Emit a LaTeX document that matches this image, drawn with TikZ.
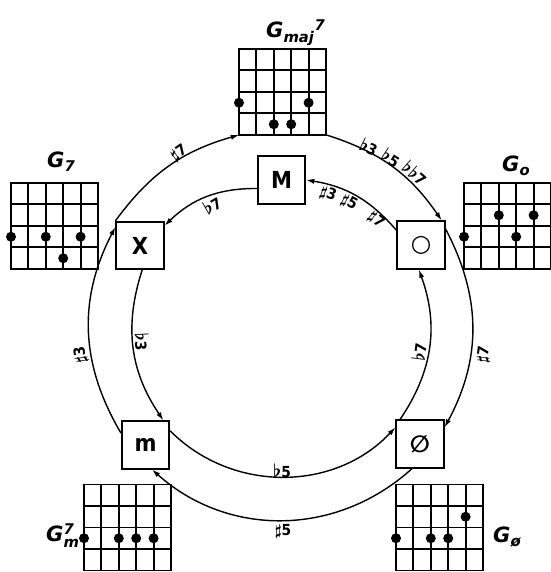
\documentclass[tikz,border=0pt]{standalone}
\usepackage{amsmath}
\usepackage{graphicx}
\usepackage{fontspec}
\setmainfont{DejaVu Sans}
\newfontfamily\condfont{DejaVu Sans Condensed}
\newfontfamily\symfont{DejaVu Sans}
\usetikzlibrary{arrows.meta}

\newcommand\flt{\scalebox{1.3}{$\boldsymbol{\flat}$}}
\newcommand\shp{\scalebox{1.1}{$\boldsymbol{\sharp}$}}

% chord grid: name, south west corner, dots as string/fret
\newcommand\fretboard[3]{%
  \node[fretbox,anchor=south west] (#1) at (#2) {};
  \begin{scope}[shift={(#1.south west)},line width=1.7pt,line cap=rect]
    \foreach \s in {0,...,5} \draw (\s*17.4,0) -- (\s*17.4,86);
    \foreach \f in {0,...,4} \draw (0,\f*21.5) -- (87,\f*21.5);
    \foreach \s/\f in {#3} \fill (\s*17.4,96.75-\f*21.5) circle (5);
  \end{scope}}

\begin{document}
\begin{tikzpicture}[x=0.03cm,y=0.03cm,>={Latex[length=7pt,width=4.5pt]},
  chord/.style={draw,line width=1.6pt,fill=white,minimum size=1.42cm,inner sep=0pt,
    font=\condfont\bfseries\fontsize{20}{20}\selectfont},
  fretbox/.style={minimum width=2.61cm,minimum height=2.58cm,inner sep=0pt},
  ring/.style={line width=1.2pt,->},
  ivl/.style={font=\condfont\bfseries\fontsize{13}{13}\selectfont,inner sep=0pt},
  cname/.style={font=\bfseries\itshape\fontsize{18}{18}\selectfont,inner sep=0pt,anchor=base west}]
  \useasboundingbox (0,0) rectangle (550,572);

  % chord diagrams
  \fretboard{fmaj}{239,437}{0/3,2/4,3/4,4/3}
  \fretboard{fdom}{11,303}{0/3,2/3,3/4,4/3}
  \fretboard{fdim}{464,303}{0/3,2/2,3/3,4/2}
  \fretboard{fmin}{84,1.5}{0/3,2/3,3/3,4/3}
  \fretboard{fhdim}{396,1.5}{0/3,2/3,3/3,4/2}

  \node[cname] (nmaj) at (266,534) {G\textsubscript{maj}\textsuperscript{7}};
  \node[cname] (ndom) at (47,404) {G\textsubscript{7}};
  \node[cname] (ndim) at (502,400) {G\textsubscript{o}};
  \node[cname] (nmin) at (46,30) {G$_{\text{m}}^{\text{7}}$};
  \node[cname] (nhdim) at (493,29) {G\textsubscript{ø}};

  % chord types
  \node[chord] (maj) at (281.5,392) {M};
  \node[chord] (dom) at (140,326.5) {X};
  \node[chord] (dim) at (421,327) {{\symfont ○}};
  \node[chord] (min) at (145.5,127) {m};
  \node[chord] (hdim) at (420,128) {{\symfont ∅}};

  % outer ring
  \draw[ring] (dom.north west) to[bend left=19] (fmaj.south west);
  \draw[ring] (fmaj.south east) to[bend left=19] (dim.50);
  \draw[ring] (dim.33) to[bend left=28] (hdim.34);
  \draw[ring] (hdim.252) to[bend left=42] (min.-75);
  \draw[ring] (min.154) to[bend left=29] (dom.143);
  % inner ring
  \draw[ring] (maj.199) to[bend right=22] (dom.39);
  \draw[ring] (dim.149) to[bend right=20] (maj.east);
  \draw[ring] (dom.-85) to[bend right=26] (min.54);
  \draw[ring] (hdim.129) to[bend right=27] (dim.-95);
  \draw[ring] (min.30) to[bend right=46] (hdim.146);

  % intervals
  \node[ivl,rotate=35] (i1) at (179,419) {\shp7};
  \node[ivl,rotate=-26] (i2a) at (369,425) {\flt3};
  \node[ivl,rotate=-33] (i2b) at (391,414) {\flt5};
  \node[ivl,rotate=-41] (i2c) at (415,399) {\flt\flt7};
  \node[ivl,rotate=30] (i3) at (212,367) {\flt7};
  \node[ivl,rotate=-20] (i4a) at (328,378) {\shp3};
  \node[ivl,rotate=-28] (i4b) at (349,369) {\shp5};
  \node[ivl,rotate=-40] (i4c) at (376,352) {\shp7};
  \node[ivl,rotate=98] (i5) at (81,217) {\shp3};
  \node[ivl,rotate=-87] (i6) at (142,230) {\flt3};
  \node[ivl,rotate=83] (i7) at (419,220) {\flt7};
  \node[ivl,rotate=82] (i8) at (484,217) {\shp7};
  \node[ivl] (i9) at (282,101) {\flt5};
  \node[ivl] (i10) at (283,41) {\shp5};
\end{tikzpicture}
\end{document}
